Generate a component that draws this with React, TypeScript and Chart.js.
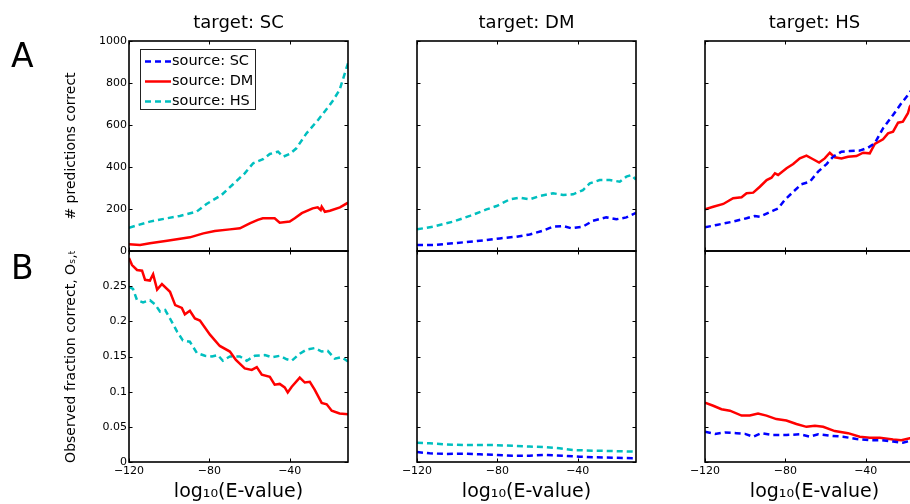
import React, { useEffect, useRef } from "react";
import { Chart, registerables } from "chart.js";

Chart.register(...registerables);

type Pt = [number, number];

// ---------- axes ----------
const X_MIN = -120;
const X_MAX = -11;
const X_TICKS = [-120, -80, -40];
const COUNT_MAX = 1000;
const COUNT_TICKS = [0, 200, 400, 600, 800, 1000];
const FRACTION_MAX = 0.3;
const FRACTION_TICKS = [0, 0.05, 0.1, 0.15, 0.2, 0.25];

const TARGETS = ["SC", "DM", "HS"];
const SOURCES = ["SC", "DM", "HS"];

const X_TITLE = "log\u2081\u2080(E-value)";
const Y_TITLE_COUNT = "# predictions correct";
const Y_TITLE_FRACTION = "Observed fraction correct, O\u209B,\u209C";

// ---------- A: # predictions correct  [log10(E-value), count] ----------
const countSC_fromDM: Pt[] = [
  [-120, 32], [-114.5, 29], [-109.6, 37], [-101, 49], [-89.7, 65], [-83, 84], [-77.3, 95],
  [-69.8, 103], [-64.8, 108], [-59.9, 132], [-55.9, 148], [-53.4, 156], [-47.5, 156],
  [-45, 135], [-40, 140], [-37.5, 156], [-34, 180], [-28.6, 203], [-26.1, 208], [-24.6, 195],
  [-24.1, 211], [-22.5, 187], [-20, 192], [-15, 208], [-11, 230],
];
const countSC_fromHS: Pt[] = [
  [-120, 111], [-109.6, 140], [-101, 156], [-94.7, 167], [-86.4, 187], [-81.4, 224],
  [-73.9, 267], [-68.2, 318], [-62.4, 370], [-58.2, 418], [-53.3, 437], [-49.9, 462],
  [-45.8, 473], [-43.3, 449], [-40, 462], [-36.7, 489], [-31.7, 560], [-25.9, 624],
  [-20.1, 695], [-18.3, 719], [-15.2, 767], [-11, 894],
];
const countDM_fromSC: Pt[] = [
  [-120, 29], [-111, 29], [-102, 37], [-93.7, 44], [-85.4, 52], [-78.8, 60], [-70.5, 68],
  [-63.9, 79], [-57.3, 97], [-52.3, 116], [-47.3, 119], [-43.2, 108], [-37.4, 116],
  [-32.4, 144], [-25.8, 160], [-20.8, 151], [-15.8, 160], [-11, 182],
];
const countDM_fromHS: Pt[] = [
  [-120, 103], [-112, 116], [-102, 140], [-93.7, 167], [-85.4, 198], [-80.4, 214],
  [-73.8, 246], [-68.8, 254], [-63.9, 246], [-58.9, 262], [-52.3, 275], [-47.3, 267],
  [-42.3, 270], [-37.4, 290], [-34, 322], [-29.1, 338], [-24.1, 338], [-19.1, 330],
  [-15.8, 354], [-13.3, 362], [-11, 340],
];
const countHS_fromSC: Pt[] = [
  [-120, 113], [-114.2, 124], [-106, 140], [-99.3, 156], [-95.2, 167], [-92.7, 163],
  [-86.1, 192], [-83.6, 203], [-80.3, 243], [-76.1, 282], [-72, 318], [-67.8, 330],
  [-63.7, 378], [-59.5, 414], [-56.2, 449], [-52.1, 473], [-47.9, 476], [-43, 478],
  [-38.8, 492], [-35.5, 513], [-31.4, 584], [-26.4, 648], [-22.3, 703], [-19, 743],
  [-18.1, 754], [-15, 800], [-11, 840],
];
const countHS_fromDM: Pt[] = [
  [-120, 198], [-115.9, 211], [-110.9, 224], [-106, 251], [-101.8, 256], [-99.3, 275],
  [-96, 278], [-92.7, 306], [-89.3, 338], [-86.9, 349], [-85.2, 370], [-83.6, 362],
  [-79.4, 394], [-76.1, 414], [-72.8, 441], [-69.5, 454], [-66.2, 437], [-63.2, 421],
  [-60.4, 441], [-57.9, 468], [-55.4, 446], [-52.1, 441], [-48.8, 449], [-44.6, 452],
  [-41.3, 468], [-38, 465], [-35.5, 510], [-31.4, 532], [-28.9, 560], [-26.4, 568],
  [-23.9, 611], [-21.5, 616], [-19, 656], [-18.1, 687], [-15, 730], [-11, 780],
];

// ---------- B: observed fraction correct ----------
const fracSC_fromDM: Pt[] = [
  [-120, 0.29], [-118.5, 0.28], [-116, 0.273], [-113.5, 0.272], [-112, 0.259], [-109.6, 0.258],
  [-108, 0.267], [-106, 0.245], [-103.6, 0.253], [-99.6, 0.242], [-97, 0.223], [-93.7, 0.219],
  [-92.2, 0.21], [-89.7, 0.215], [-87.2, 0.204], [-84.7, 0.201], [-79.7, 0.181], [-74.8, 0.165],
  [-69.8, 0.157], [-66.8, 0.145], [-62.4, 0.133], [-58.9, 0.131], [-56.4, 0.135], [-53.9, 0.124],
  [-49.9, 0.121], [-47.5, 0.11], [-45, 0.111], [-42.5, 0.106], [-41, 0.099], [-39, 0.107],
  [-35, 0.12], [-32.5, 0.113], [-30, 0.114], [-27.6, 0.103], [-24.1, 0.084], [-21.6, 0.082],
  [-19.1, 0.073], [-15.2, 0.069], [-11, 0.068],
];
const fracSC_fromHS: Pt[] = [
  [-120, 0.249], [-118, 0.246], [-116, 0.23], [-113, 0.227], [-109.6, 0.23], [-107, 0.224],
  [-104.6, 0.214], [-102, 0.216], [-99.6, 0.204], [-96, 0.185], [-93.2, 0.173], [-89.7, 0.171],
  [-86.2, 0.155], [-82.2, 0.151], [-78.7, 0.15], [-75.8, 0.152], [-73.3, 0.144], [-69.8, 0.15],
  [-64.8, 0.15], [-61.4, 0.144], [-57.4, 0.151], [-52.4, 0.152], [-49, 0.149], [-45, 0.151],
  [-41.5, 0.146], [-39, 0.144], [-35, 0.154], [-31.5, 0.16], [-27.6, 0.162], [-24.1, 0.157],
  [-21.1, 0.158], [-17.6, 0.147], [-14.2, 0.149], [-11, 0.143],
];
const fracDM_fromSC: Pt[] = [
  [-120, 0.0142], [-113.7, 0.0123], [-105.4, 0.0114], [-97.1, 0.0118], [-88.8, 0.011],
  [-80.6, 0.01], [-72.3, 0.009], [-64, 0.009], [-55.7, 0.01], [-47.3, 0.009], [-39, 0.0076],
  [-30.9, 0.0066], [-22.6, 0.0062], [-11, 0.0052],
];
const fracDM_fromHS: Pt[] = [
  [-120, 0.0275], [-113.7, 0.0265], [-105.4, 0.025], [-97.1, 0.024], [-88.8, 0.024],
  [-80.6, 0.024], [-72.3, 0.023], [-64, 0.022], [-55.7, 0.021], [-49.1, 0.0195],
  [-42.5, 0.017], [-30.9, 0.016], [-22.6, 0.0156], [-11, 0.0147],
];
const fracHS_fromSC: Pt[] = [
  [-120, 0.043], [-115, 0.04], [-110, 0.042], [-104.3, 0.041], [-100.1, 0.04], [-96, 0.036],
  [-91.9, 0.041], [-86.1, 0.0384], [-79.5, 0.0384], [-72.8, 0.0394], [-67.8, 0.036],
  [-63.7, 0.0394], [-57.9, 0.0374], [-51.3, 0.036], [-44.6, 0.0327], [-38, 0.031],
  [-32.2, 0.031], [-26.4, 0.029], [-21.5, 0.0275], [-18.1, 0.03], [-11, 0.029],
];
const fracHS_fromDM: Pt[] = [
  [-120, 0.0844], [-115.9, 0.08], [-111.8, 0.075], [-107.6, 0.073], [-101.8, 0.066],
  [-97.7, 0.066], [-93.6, 0.069], [-89.4, 0.066], [-84.5, 0.061], [-79.5, 0.059],
  [-74.5, 0.054], [-69.5, 0.05], [-65.3, 0.0516], [-61.2, 0.05], [-55.4, 0.044],
  [-48.8, 0.041], [-43, 0.036], [-38, 0.0346], [-33, 0.0346], [-26.4, 0.032],
  [-22.3, 0.031], [-18.1, 0.0337], [-11, 0.034],
];

// ---------- styles & layout ----------
const FONT = "'DejaVu Sans', sans-serif";
const SOURCE_COLOR: Record<string, string> = { SC: "#0000ff", DM: "#ff0000", HS: "#00bfbf" };
const SOURCE_DASH: Record<string, number[]> = { SC: [6, 4], DM: [], HS: [6, 4] };

const CANVAS_W = 940;
const CANVAS_H = 504;
const COL_LEFT = [129, 417, 705];
const PLOT_W = 219;
const ROW_TOP = [41, 251];
const ROW_BOTTOM = [251, 462];
const Y_AXIS_W = 66;
const TOP_X_AXIS_H = 8;

type PanelSpec = { row: number; col: number; series: Record<string, Pt[] | null>; legend: boolean };

const PANELS: PanelSpec[] = [
  { row: 0, col: 0, legend: true, series: { SC: [], DM: countSC_fromDM, HS: countSC_fromHS } },
  { row: 0, col: 1, legend: false, series: { SC: countDM_fromSC, HS: countDM_fromHS } },
  { row: 0, col: 2, legend: false, series: { SC: countHS_fromSC, DM: countHS_fromDM } },
  { row: 1, col: 0, legend: false, series: { DM: fracSC_fromDM, HS: fracSC_fromHS } },
  { row: 1, col: 1, legend: false, series: { SC: fracDM_fromSC, HS: fracDM_fromHS } },
  { row: 1, col: 2, legend: false, series: { SC: fracHS_fromSC, DM: fracHS_fromDM } },
];

const fmtX = (v: number) => (v < 0 ? "\u2212" + Math.abs(v) : String(v));

const boxPlugin = {
  id: "matlabBox",
  afterDatasetsDraw(chart: any) {
    const { ctx, chartArea: a, scales } = chart;
    const L = 3.5;
    ctx.save();
    ctx.strokeStyle = "#000";
    ctx.lineWidth = 1;
    ctx.beginPath();
    for (const t of scales.x.ticks) {
      const px = Math.round(scales.x.getPixelForValue(t.value)) + 0.5;
      ctx.moveTo(px, a.bottom);
      ctx.lineTo(px, a.bottom - L);
      ctx.moveTo(px, a.top);
      ctx.lineTo(px, a.top + L);
    }
    for (const t of scales.y.ticks) {
      const py = Math.round(scales.y.getPixelForValue(t.value)) + 0.5;
      ctx.moveTo(a.left, py);
      ctx.lineTo(a.left + L, py);
      ctx.moveTo(a.right, py);
      ctx.lineTo(a.right - L, py);
    }
    ctx.stroke();
    ctx.lineWidth = 1.6;
    ctx.strokeRect(a.left, a.top, a.right - a.left, a.bottom - a.top);
    ctx.restore();
  },
};

const makeLegendPlugin = (show: boolean) => ({
  id: "matlabLegend",
  afterDraw(chart: any) {
    if (!show) return;
    const { ctx, chartArea: a } = chart;
    const x0 = a.left + 11;
    const y0 = a.top + 8;
    const w = 115;
    const h = 60;
    ctx.save();
    ctx.fillStyle = "#fff";
    ctx.fillRect(x0, y0, w, h);
    ctx.strokeStyle = "#222";
    ctx.lineWidth = 1;
    ctx.strokeRect(x0 + 0.5, y0 + 0.5, w, h);
    chart.data.datasets.forEach((ds: any, i: number) => {
      const cy = y0 + 12.5 + i * 20;
      ctx.beginPath();
      ctx.setLineDash(ds.borderDash || []);
      ctx.strokeStyle = ds.borderColor;
      ctx.lineWidth = 2.5;
      ctx.moveTo(x0 + 5, cy);
      ctx.lineTo(x0 + 31, cy);
      ctx.stroke();
      ctx.setLineDash([]);
      ctx.fillStyle = "#000";
      ctx.font = `14.5px ${FONT}`;
      ctx.textBaseline = "middle";
      ctx.textAlign = "left";
      ctx.fillText(ds.label, x0 + 32, cy);
    });
    ctx.restore();
  },
});

function buildConfig(p: PanelSpec): any {
  const top = p.row === 0;
  const left = p.col === 0;
  const target = TARGETS[p.col];
  const xh = top ? TOP_X_AXIS_H : CANVAS_H - ROW_BOTTOM[1];
  const datasets = SOURCES.filter((s) => p.series[s]).map((s) => ({
    label: `source: ${s}`,
    data: (p.series[s] as Pt[]).map(([x, y]) => ({ x, y })),
    borderColor: SOURCE_COLOR[s],
    backgroundColor: SOURCE_COLOR[s],
    borderDash: SOURCE_DASH[s],
    borderWidth: 2.5,
    pointRadius: 0,
    fill: false,
    tension: 0,
  }));
  const tickFont = { family: FONT, size: 11 };
  return {
    type: "line",
    data: { datasets },
    options: {
      responsive: false,
      animation: false,
      events: [],
      layout: {
        padding: {
          left: COL_LEFT[p.col] - Y_AXIS_W,
          right: CANVAS_W - (COL_LEFT[p.col] + PLOT_W),
          top: top ? 0 : ROW_TOP[1],
          bottom: top ? CANVAS_H - ROW_BOTTOM[0] - xh : 0,
        },
      },
      plugins: {
        legend: { display: false },
        tooltip: { enabled: false },
        title: {
          display: top,
          text: `target: ${target}`,
          fullSize: false,
          color: "#000",
          font: { family: FONT, size: 18, weight: "normal", lineHeight: 1.2 },
          padding: { top: 12.8, bottom: ROW_TOP[0] - 21.6 - 12.8 },
        },
      },
      scales: {
        x: {
          type: "linear",
          min: X_MIN,
          max: X_MAX,
          afterBuildTicks: (s: any) => {
            s.ticks = X_TICKS.map((value) => ({ value }));
          },
          afterFit: (s: any) => {
            s.height = xh;
          },
          grid: { display: false, drawTicks: false },
          border: { display: false },
          ticks: {
            display: !top,
            autoSkip: false,
            maxRotation: 0,
            padding: 3,
            color: "#000",
            font: tickFont,
            callback: (v: any) => fmtX(Number(v)),
          },
          title: {
            display: !top,
            text: X_TITLE,
            color: "#000",
            font: { family: FONT, size: 19 },
            padding: { top: 0, bottom: 1 },
          },
        },
        y: {
          type: "linear",
          min: 0,
          max: top ? COUNT_MAX : FRACTION_MAX,
          afterBuildTicks: (s: any) => {
            s.ticks = (top ? COUNT_TICKS : FRACTION_TICKS).map((value) => ({ value }));
          },
          afterFit: (s: any) => {
            s.width = Y_AXIS_W;
          },
          grid: { display: false, drawTicks: false },
          border: { display: false },
          ticks: {
            display: left,
            autoSkip: false,
            padding: 2,
            color: "#000",
            font: tickFont,
            callback: (v: any) => String(v),
          },
          title: {
            display: left,
            text: top ? Y_TITLE_COUNT : Y_TITLE_FRACTION,
            color: "#000",
            font: { family: FONT, size: 14 },
            padding: { top: 0, bottom: 0 },
          },
        },
      },
    },
    plugins: [boxPlugin, makeLegendPlugin(p.legend)],
  };
}

export default function App() {
  const refs = useRef<(HTMLCanvasElement | null)[]>([]);

  useEffect(() => {
    document.body.style.margin = "0";
    const charts = PANELS.map((p, i) => new Chart(refs.current[i] as HTMLCanvasElement, buildConfig(p)));
    return () => charts.forEach((c) => c.destroy());
  }, []);

  const letterStyle: React.CSSProperties = {
    position: "absolute",
    left: 11,
    fontFamily: FONT,
    fontSize: 33,
    lineHeight: "33px",
    color: "#000",
  };

  return (
    <div style={{ position: "relative", width: 910, height: 504, overflow: "hidden", background: "#fff" }}>
      {PANELS.map((_, i) => (
        <canvas
          key={i}
          ref={(el) => {
            refs.current[i] = el;
          }}
          width={CANVAS_W}
          height={CANVAS_H}
          style={{ position: "absolute", left: 0, top: 0, width: CANVAS_W, height: CANVAS_H }}
        />
      ))}
      <div style={{ ...letterStyle, top: 39 }}>A</div>
      <div style={{ ...letterStyle, top: 251 }}>B</div>
    </div>
  );
}
